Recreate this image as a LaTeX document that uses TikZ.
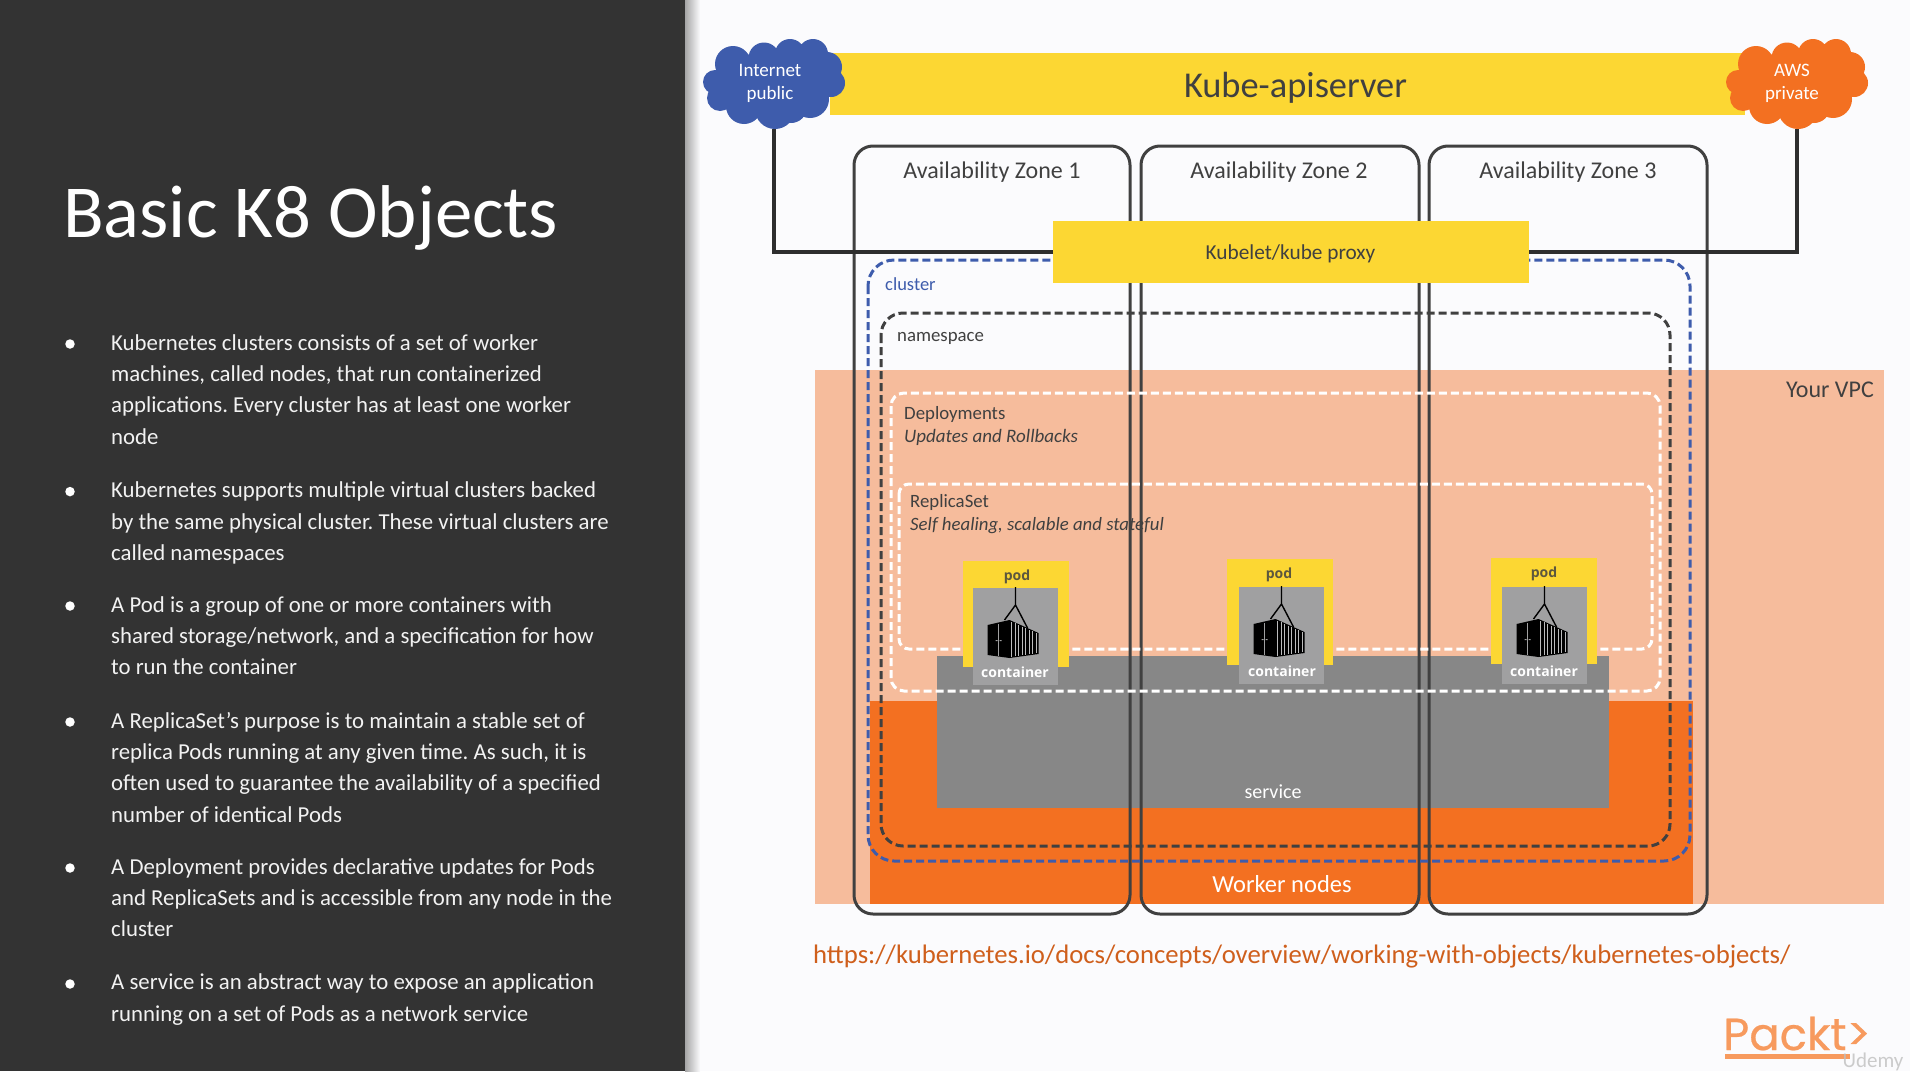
\documentclass[tikz,border=0pt]{standalone}
\usepackage{fontspec}
\setmainfont{Carlito}
\newfontfamily\boldsans{Open Sans}
\newfontfamily\logofont[FakeBold=0.5]{Poppins}
\usetikzlibrary{calc}
\definecolor{pagebg}{HTML}{FBFBFD}
\definecolor{sidebar}{HTML}{333333}
\definecolor{ybar}{HTML}{FCD733}
\definecolor{cblue}{HTML}{3E5CAC}
\definecolor{corange}{HTML}{F37021}
\definecolor{vpc}{HTML}{F6BC9C}
\definecolor{svc}{HTML}{878787}
\definecolor{cont}{HTML}{A0A0A1}
\definecolor{ink}{HTML}{404040}
\definecolor{urlc}{HTML}{CF5F1C}
\definecolor{logoc}{HTML}{F79A5E}
\frenchspacing
\tikzset{
  x=1pt,y=-1pt,
  box/.style={inner sep=0,outer sep=0,anchor=north west},
  zone/.style={draw=ink,line width=3pt,rounded corners=19pt},
  dashbox/.style={line width=3pt,dash pattern=on 8pt off 4pt},
  lab/.style={inner sep=0,text=ink,font=\fontsize{21.3}{25}\selectfont},
  para/.style={inner sep=0,anchor=north west,align=left,text=white!95!black,
    font=\fontsize{22.8}{31.3}\selectfont},
  dot/.style={circle,fill=white,inner sep=0,minimum size=9.5pt},
  cloudtxt/.style={inner sep=0,align=center,text=white,font=\fontsize{19}{23}\selectfont},
  cloudbox/.style={inner sep=0,outer sep=0,minimum width=142pt,minimum height=90pt},
  link/.style={draw=black!82,line width=4.5pt,line join=miter},
  podlab/.style={inner sep=0,font=\boldsans\bfseries\fontsize{14}{16}\selectfont},
}
\newcommand{\cloudpuffs}[3]{%
  \fill[#3] (#1,#2) ellipse [x radius=57pt,y radius=33pt]
    (#1-41,#2-20) circle (18pt) (#1-10,#2-26) circle (15.5pt)
    (#1+16,#2-30) circle (15pt) (#1+39,#2-30) circle (15pt)
    (#1+53,#2-17) circle (15pt) (#1+57,#2-1) circle (14pt)
    (#1+36,#2+15) circle (19pt) (#1+1,#2+25) circle (20pt)
    (#1+17,#2+23) circle (16pt) (#1-30,#2+22) circle (18pt)
    (#1-54,#2+14) circle (13pt) (#1-59,#2-2) circle (12pt);}
\newcommand{\podicon}[2]{%
  \begin{scope}[shift={(#1,#2)}]
    \draw[black,line width=1.4pt,line join=miter] (0,-1) -- (0,17) (-11,32) -- (0,17) -- (12,40);
    \fill[black] (-28,37) -- (-6,32) -- (23,45) -- (23,66) -- (-6,70) -- (-28,67) -- cycle;
    \foreach \d in {-4,-0.5,3,6.5,10,13.5,17,20.5}{
      \pgfmathsetmacro{\yt}{33+(\d+6)*13/29}
      \pgfmathsetmacro{\yb}{69-(\d+6)*4/29}
      \draw[cont!70!white,line width=1pt] (\d,\yt) -- (\d,\yb);}
    \draw[cont,line width=.5pt] (-17,36) -- (-17,68);
    \fill[cont] (-20,52) rectangle (-18,53) (-16,52) rectangle (-14,53);
  \end{scope}}
\newcommand{\podbox}[7]{%
  \node[box,fill=ybar,minimum width=106pt,minimum height=106pt] (#1y) at (#2,#3) {};
  \node[box,fill=cont,minimum width=85pt,minimum height=97pt] (#1c) at (#4,#5) {};
  \node[podlab,text=ink!85!ybar] (#1p) at (#6,#3+16) {pod};
  \node[podlab,text=white] (#1t) at (#7,#5+84) {container};
  \podicon{#4+42.5}{#5}}
\begin{document}
\begin{tikzpicture}
\useasboundingbox (0,0) rectangle (1910,1071);
\fill[pagebg] (0,0) rectangle (1910,1071);
\shade[left color=black!35,right color=pagebg] (685,0) rectangle (700,1071);
\node[box,fill=sidebar,minimum width=685pt,minimum height=1071pt] (side) at (0,0) {};
% title and bullets
\node[inner sep=0,anchor=base west,text=white,font=\fontsize{74.8}{80}\selectfont] (title) at (63,237) {Basic K8 Objects};
\foreach \n/\yy in {a/344,b/491.6,c/606,d/722,e/868,f/984}{\node[dot] (dot\n) at (70,\yy) {};}
\node[para] (pa) at (111,328.1) {\strut Kubernetes clusters consists of a set of worker\\machines, called nodes, that run containerized\\applications. Every cluster has at least one worker\\node};
\node[para] (pb) at (111,475.7) {\strut Kubernetes supports multiple virtual clusters backed\\by the same physical cluster. These virtual clusters are\\called namespaces};
\node[para] (pc) at (111,590.1) {\strut A Pod is a group of one or more containers with\\shared storage/network, and a specification for how\\to run the container};
\node[para] (pd) at (111,706.1) {\strut A ReplicaSet’s purpose is to maintain a stable set of\\replica Pods running at any given time. As such, it is\\often used to guarantee the availability of a specified\\number of identical Pods};
\node[para] (pe) at (111,852.1) {\strut A Deployment provides declarative updates for Pods\\and ReplicaSets and is accessible from any node in the\\cluster};
\node[para] (pf) at (111,967.6) {\strut A service is an abstract way to expose an application\\running on a set of Pods as a network service};
% bands
\node[box,fill=vpc,minimum width=1069pt,minimum height=534pt] (vpcband) at (815,370) {};
\node[box,fill=corange,minimum width=823pt,minimum height=203pt] (workers) at (870,701) {};
\node[box,fill=svc,minimum width=672pt,minimum height=152pt] (service) at (937,656) {};
\node[box,fill=ybar,minimum width=915pt,minimum height=62pt] (api) at (830,53) {};
% zones
\draw[zone] (854,146) rectangle (1130,914);
\draw[zone] (1141,146) rectangle (1419,914);
\draw[zone] (1429,146) rectangle (1707,914);
% dashed containers
\draw[dashbox,cblue,rounded corners=26pt] (868,260) rectangle (1690,861);
\draw[dashbox,ink,rounded corners=22pt] (881,313) rectangle (1670,846);
\draw[dashbox,white,rounded corners=13pt] (891,393) rectangle (1660,691);
\draw[dashbox,white,rounded corners=10pt] (899,484) rectangle (1652,649);
% kubelet
\node[box,fill=ybar,minimum width=476pt,minimum height=62pt] (kubelet) at (1053,221) {};
% clouds
\node[cloudbox] (inet) at (774,84) {};
\node[cloudbox] (aws) at (1797,84) {};
\draw[link] (inet.south) |- (kubelet.west);
\draw[link] (aws.south) |- (kubelet.east);
\cloudpuffs{774}{84}{cblue}
\cloudpuffs{1797}{84}{corange}
\node[cloudtxt] (inett) at (770,83.5) {Internet\\public};
\node[cloudtxt] (awst) at (1792,83.5) {AWS\\private};
% pods
\podbox{pa}{963}{561}{973}{588}{1017}{1015}
\podbox{pb}{1227}{559}{1239}{587}{1279}{1282}
\podbox{pc}{1491}{558}{1502}{587}{1544}{1544}
% labels
\node[inner sep=0,text=ink,font=\fontsize{36.4}{40}\selectfont] (apil) at (1295.5,88) {Kube-apiserver};
\node[lab] (kl) at (1290.5,254) {Kubelet/kube proxy};
\node[lab,font=\fontsize{24}{26}\selectfont] (z1) at (992,172) {Availability Zone 1};
\node[lab,font=\fontsize{24}{26}\selectfont] (z2) at (1279,172) {Availability Zone 2};
\node[lab,font=\fontsize{24}{26}\selectfont] (z3) at (1568,172) {Availability Zone 3};
\node[lab,anchor=west,text=cblue,font=\fontsize{18.5}{22}\selectfont] (cl) at (885,284) {cluster};
\node[lab,anchor=west,font=\fontsize{18.8}{22}\selectfont] (ns) at (897,338.5) {namespace};
\node[lab,anchor=west,font=\fontsize{18.8}{22}\selectfont] (dp) at (904,414) {Deployments};
\node[lab,anchor=west,font=\fontsize{19}{22}\selectfont\itshape] (dps) at (904,437.5) {Updates and Rollbacks};
\node[lab,anchor=west,font=\fontsize{18.8}{22}\selectfont] (rs) at (910,502) {ReplicaSet};
\node[lab,anchor=west,font=\fontsize{18.8}{22}\selectfont\itshape] (rss) at (910,526) {Self healing, scalable and stateful};
\node[lab,anchor=east,font=\fontsize{24}{26}\selectfont] (yv) at (1874,390) {Your VPC};
\node[lab,text=white,font=\fontsize{20}{24}\selectfont] (sv) at (1273,792) {service};
\node[lab,text=white,font=\fontsize{24.5}{26}\selectfont] (wn) at (1282,884) {Worker nodes};
\node[lab,anchor=west,text=urlc,font=\fontsize{26.7}{28}\selectfont] (url) at (813,957) {https://kubernetes.io/docs/concepts/overview/working-with-objects/kubernetes-objects/};
% logo
\node[inner sep=0,anchor=base west,text=logoc,font=\logofont\fontsize{45}{50}\selectfont] (logo) at (1723,1050) {Packt>};
\fill[logoc] (1725,1054) rectangle (1850,1058.5);
\node[inner sep=0,anchor=base,text=black!25,opacity=.8,font=\fontsize{21}{22}\selectfont] (ud) at (1873,1067) {Udemy};
\end{tikzpicture}
\end{document}
